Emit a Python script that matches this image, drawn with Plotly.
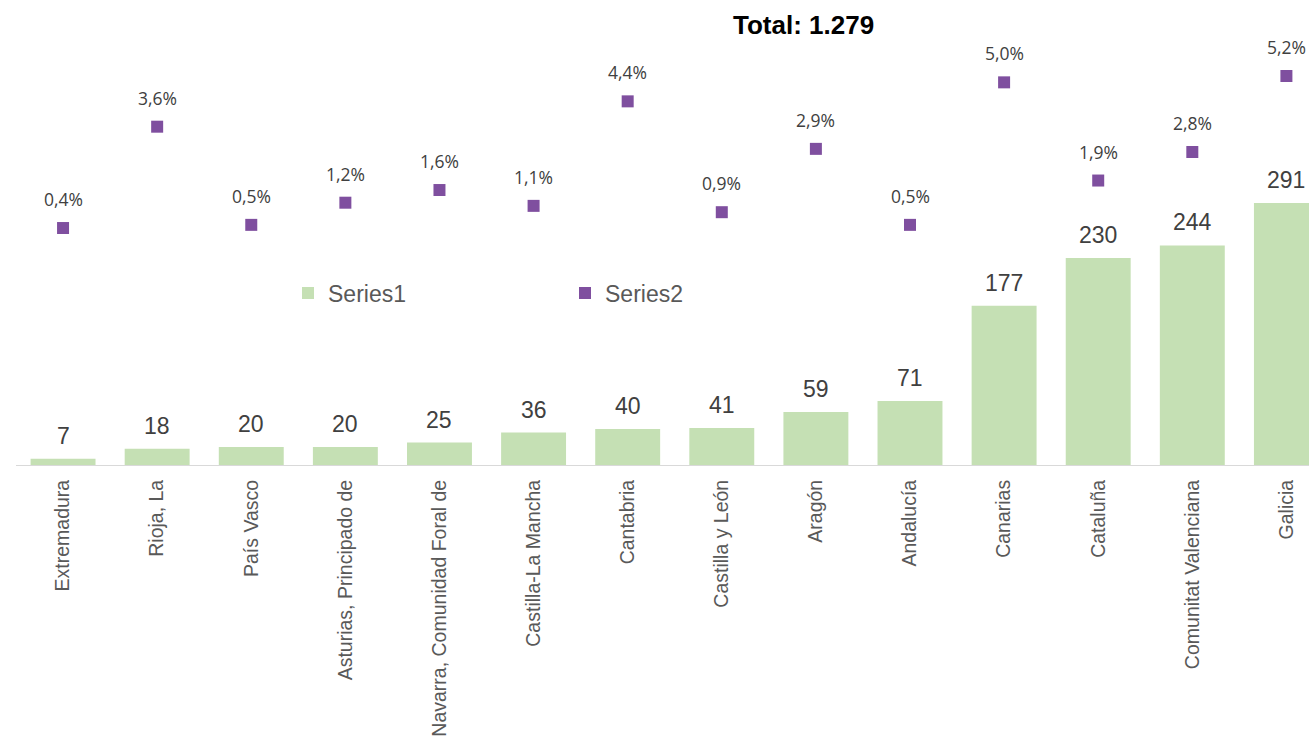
import plotly.graph_objects as go

regions = ["Extremadura", "Rioja, La", "País Vasco", "Asturias, Principado de",
           "Navarra, Comunidad Foral de", "Castilla-La Mancha", "Cantabria",
           "Castilla y León", "Aragón", "Andalucía", "Canarias", "Cataluña",
           "Comunitat Valenciana", "Galicia"]
series1 = [7, 18, 20, 20, 25, 36, 40, 41, 59, 71, 177, 230, 244, 291]
series2 = [0.4, 3.6, 0.5, 1.2, 1.6, 1.1, 4.4, 0.9, 2.9, 0.5, 5.0, 1.9, 2.8, 5.2]
total_label = "Total: 1.279"

bar_color = "#C5E0B4"
dot_color = "#7F4F9F"

W, H = 1309, 741
ml, mt, mb = 16, 40, 276
plot_w = W - ml
plot_h = H - mt - mb          # 425 px
px_per_unit = 0.9             # bars
px_per_pct = 31.67            # markers
zero2 = 240.7 - mt            # px from plot top to 0% on the secondary axis

fig = go.Figure()
fig.add_trace(go.Bar(x=regions, y=series1, name="Series1",
                     marker=dict(color=bar_color, line=dict(width=0))))
fig.add_trace(go.Scatter(x=regions, y=series2, name="Series2", yaxis="y2",
                         mode="markers",
                         marker=dict(symbol="square", size=12, color=dot_color)))

# data labels
for r, v in zip(regions, series1):
    fig.add_annotation(x=r, y=v, yref="y", text=str(v), showarrow=False,
                       yanchor="bottom", yshift=8,
                       font=dict(family="Liberation Sans, Arial", size=23, color="#404040"))
for r, v in zip(regions, series2):
    fig.add_annotation(x=r, y=v, yref="y2", text=f"{v:.1f}%".replace(".", ","),
                       showarrow=False, yanchor="bottom", yshift=15,
                       font=dict(family="Open Sans", size=17.5, color="#404040"))

fig.add_annotation(x=(803 - ml) / plot_w, xref="paper", y=1 + (mt - 25) / plot_h, yref="paper",
                   yanchor="middle", text="<b>" + total_label + "</b>", showarrow=False,
                   font=dict(family="Liberation Sans, Arial", size=26, color="#000000"))

fig.update_layout(
    width=W, height=H,
    margin=dict(l=ml, r=0, t=mt, b=mb),
    paper_bgcolor="white", plot_bgcolor="white",
    bargap=0.31,
    showlegend=True,
    legend=dict(orientation="h", x=(288 - ml) / plot_w, y=(465 - 293) / plot_h, yanchor="middle",
                xanchor="left", entrywidth=232, itemwidth=30,
                font=dict(family="Liberation Sans, Arial", size=23, color="#595959"),
                bgcolor="rgba(0,0,0,0)"),
    xaxis=dict(range=[-0.5, 13.24], showline=True, linecolor="#D9D9D9", linewidth=1,
               ticks="", tickangle=-90, ticklabelstandoff=6,
               tickfont=dict(family="Liberation Sans, Arial", size=19.5, color="#595959"),
               showgrid=False, zeroline=False, fixedrange=True),
    yaxis=dict(range=[0, plot_h / px_per_unit], visible=False, showgrid=False, zeroline=False),
    yaxis2=dict(range=[-(plot_h - zero2) / px_per_pct, zero2 / px_per_pct], overlaying="y",
                side="right", visible=False, showgrid=False, zeroline=False),
)

# drop the default body margin so the figure fills the window exactly
fig.write_html("out.html", config={"displayModeBar": False},
               post_script="document.body.style.margin='0';document.body.style.overflow='hidden';")
